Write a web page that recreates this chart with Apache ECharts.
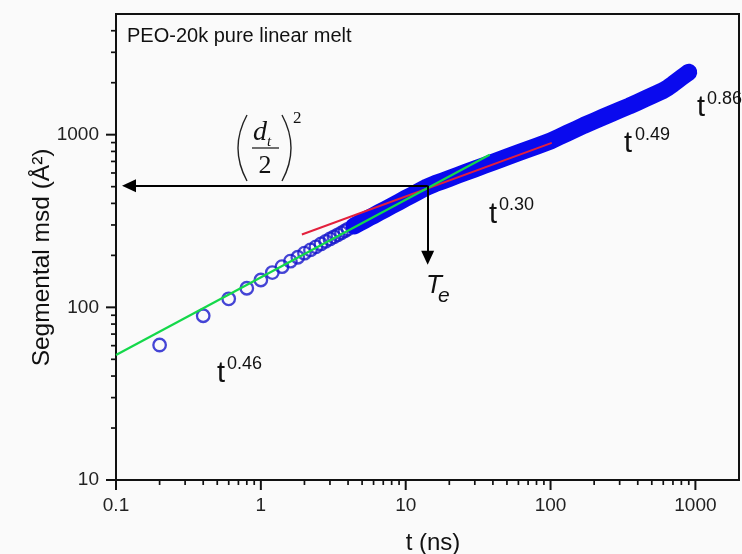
<!DOCTYPE html>
<html><head><meta charset="utf-8">
<script src="https://cdn.jsdelivr.net/npm/echarts@6/dist/echarts.min.js"></script>
<style>html,body{margin:0;padding:0;background:#fafafa}#c{width:742px;height:554px}</style>
</head><body><div id="c"></div>
<script>
// ---- data ----
const timeNs = [0.2,0.4,0.6,0.8,1.0,1.2,1.4,1.6,1.8,2.0,2.2,2.4,2.6,2.8,3.0,3.2,3.4,3.6,3.8,4.0,4.4,4.8,5.2,5.6,6.0,6.6,7.2,8,9,10,11,12,13,14,16,18,20,23,26,30,35,40,45,50,60,70,80,90,100,115,130,150,170,200,230,260,300,350,400,450,500,550,600,650,700,750,800,850,900];
const msd = [60.5,89.4,112,129,144,159,172,185,195,206,215,224,233,241,249,256,263,270,277,284,296,308,319,330,340,355,369,387,408,428,446,464,481,497,521,540,558,583,605,633,664,692,718,742,785,823,858,890,920,971,1019,1077,1132,1201,1263,1319,1390,1466,1543,1614,1681,1743,1803,1877,1963,2052,2142,2222,2300];
const bandStartIndex = 20; // dense region where circles merge into a solid band
const greenFitT = [0.1, 38];
const greenFitMsd = [53, 766];
const redFitT = [1.92, 102];
const redFitMsd = [264, 896];
const xMajorTicks = [0.1, 1, 10, 100, 1000];
const xMinorTicks = [0.2,0.3,0.4,0.5,0.6,0.7,0.8,0.9,2,3,4,5,6,7,8,9,20,30,40,50,60,70,80,90,200,300,400,500,600,700,800,900];
const yMajorTicks = [10, 100, 1000];
const yMinorTicks = [20,30,40,50,60,70,80,90,200,300,400,500,600,700,800,900,2000,3000,4000];
const arrowCorner = [14.18, 506.7];
const arrowLeftEnd = [0.123, 506.7];
const arrowDownEnd = [14.18, 194];
const X_MIN = 0.1, X_MAX = 2000, Y_MIN = 10, Y_MAX = 5000;

const SANS = '"Liberation Sans", Arial, Helvetica, sans-serif';
const SERIF = '"Liberation Serif", "Times New Roman", serif';
const BLUE = '#0a0aee';
const RING = '#1616cc';

function decadeLabel(v) {
  const l = Math.log10(v), r = Math.round(l);
  if (Math.abs(l - r) > 1e-6) return '';
  return r < 0 ? Math.pow(10, r).toFixed(-r) : String(Math.pow(10, r));
}
function pairs(xs, ys) { return xs.map((x, i) => [x, ys[i]]); }

function tickSeries(data, isX) {
  return {
    type: 'custom', coordinateSystem: 'cartesian2d', silent: true, clip: false, z: 6,
    animation: false, data: data,
    renderItem: function (params, api) {
      const p = api.coord([api.value(0), api.value(1)]);
      const len = api.value(2);
      const shape = isX ? {x1: p[0], y1: p[1], x2: p[0], y2: p[1] + len}
                        : {x1: p[0] - len, y1: p[1], x2: p[0], y2: p[1]};
      return {type: 'line', shape: shape, style: {stroke: '#111', lineWidth: len > 6 ? 2 : 1.7}};
    }
  };
}

function txt(str, x, baseline, size, opt) {
  opt = opt || {};
  const fam = opt.family || SANS;
  return {
    type: 'text', x: x, y: baseline - 0.35 * size, z: 100, silent: true,
    rotation: opt.rotation || 0,
    style: {
      text: str, fontSize: size, fontFamily: fam, fontStyle: opt.italic ? 'italic' : 'normal',
      fill: '#111', align: opt.align || 'left', verticalAlign: 'middle'
    }
  };
}

const chart = echarts.init(document.getElementById('c'), null, {renderer: 'canvas'});
const xTickData = xMajorTicks.map(v => [v, Y_MIN, 10]).concat(xMinorTicks.map(v => [v, Y_MIN, 5]));
const yTickData = yMajorTicks.map(v => [X_MIN, v, 10]).concat(yMinorTicks.map(v => [X_MIN, v, 5]));
const allPts = pairs(timeNs, msd);

chart.setOption({
  animation: false,
  backgroundColor: '#fafafa',
  grid: {left: 116, top: 14, width: 634.8, height: 466, show: true, borderColor: '#111', borderWidth: 2, backgroundColor: 'transparent'},
  xAxis: {
    type: 'log', logBase: 10, min: X_MIN, max: X_MAX,
    axisLine: {show: true, lineStyle: {color: '#111', width: 2}},
    axisTick: {show: false}, splitLine: {show: false}, minorTick: {show: false},
    axisLabel: {formatter: decadeLabel, fontSize: 19, fontFamily: SANS, color: '#222', margin: 16}
  },
  yAxis: {
    type: 'log', logBase: 10, min: Y_MIN, max: Y_MAX,
    axisLine: {show: true, lineStyle: {color: '#111', width: 2}},
    axisTick: {show: false}, splitLine: {show: false}, minorTick: {show: false},
    axisLabel: {formatter: decadeLabel, fontSize: 19, fontFamily: SANS, color: '#222', margin: 17}
  },
  series: [
    {
      name: 'arrows', type: 'line', data: [], z: 1, silent: true,
      markLine: {
        silent: true, animation: false, symbol: ['none', 'triangle'], symbolSize: [13, 14],
        label: {show: false},
        lineStyle: {color: '#000', width: 2, type: 'solid'},
        emphasis: {disabled: true},
        data: [
          [{coord: arrowCorner}, {coord: arrowLeftEnd}],
          [{coord: arrowCorner}, {coord: arrowDownEnd}]
        ]
      }
    },
    {
      name: 'msd', type: 'scatter', z: 2, silent: true, data: allPts,
      symbol: 'circle', symbolSize: 12.5,
      itemStyle: {color: 'rgba(0,0,0,0)', borderColor: RING, borderWidth: 2.3}
    },
    {
      name: 'msd band', type: 'line', z: 3, silent: true, showSymbol: false,
      data: allPts.slice(bandStartIndex),
      lineStyle: {color: BLUE, width: 17, cap: 'round', join: 'round'}
    },
    {
      name: 't^0.30', type: 'line', z: 4, silent: true, showSymbol: false,
      data: pairs(redFitT, redFitMsd),
      lineStyle: {color: '#e3203c', width: 2}
    },
    {
      name: 't^0.46', type: 'line', z: 4, silent: true, showSymbol: false,
      data: pairs(greenFitT, greenFitMsd),
      lineStyle: {color: '#14d84a', width: 2.2}
    },
    tickSeries(xTickData, true),
    tickSeries(yTickData, false)
  ],
  graphic: {elements: [
    txt('PEO-20k pure linear melt', 127, 43, 20),
    txt('Segmental msd (Å²)', 42, 266, 24.5, {align: 'center', rotation: Math.PI / 2}),
    txt('t (ns)', 433, 552, 24, {align: 'center'}),
    txt('t', 697, 118, 29), txt('0.86', 707, 105, 18),
    txt('t', 624, 154, 29), txt('0.49', 635, 141, 18),
    txt('t', 489, 225, 29), txt('0.30', 499, 211, 18),
    txt('t', 217, 384, 29), txt('0.46', 227, 370, 18),
    txt('T', 426, 295, 26, {italic: true}), txt('e', 438, 304, 21, {italic: true}),
    txt('d', 253, 142, 28, {family: SERIF, italic: true}),
    txt('t', 267, 147, 15, {family: SERIF, italic: true}),
    txt('2', 265, 175, 26, {family: SERIF, align: 'center'}),
    txt('2', 293, 124, 17, {family: SERIF}),
    {type: 'line', silent: true, z: 100, shape: {x1: 252, y1: 148, x2: 279, y2: 148}, style: {stroke: '#222', lineWidth: 1.3}},
    {type: 'bezierCurve', silent: true, z: 100, shape: {x1: 247, y1: 115, cpx1: 229, cpy1: 148, x2: 247, y2: 181}, style: {stroke: '#222', lineWidth: 1.4, fill: null}},
    {type: 'bezierCurve', silent: true, z: 100, shape: {x1: 282, y1: 115, cpx1: 300, cpy1: 148, x2: 282, y2: 181}, style: {stroke: '#222', lineWidth: 1.4, fill: null}}
  ]}
});
</script>
</body></html>
